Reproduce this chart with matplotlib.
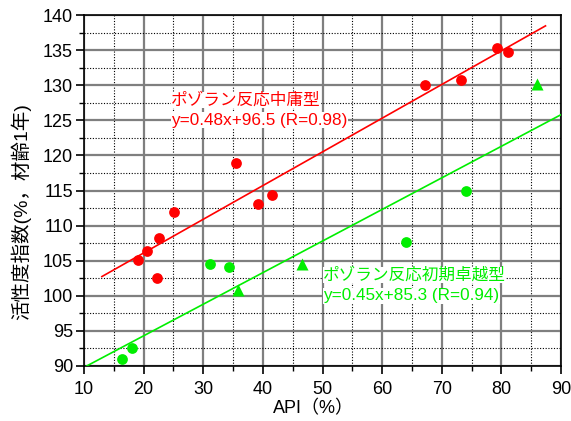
import matplotlib
matplotlib.use("Agg")
import matplotlib.pyplot as plt
from matplotlib.ticker import MultipleLocator

plt.rcParams['font.family'] = ['Liberation Sans', 'Noto Sans CJK JP', 'DejaVu Sans']

# ポゾラン反応中庸型 (red circles)
red_x = [19.1, 20.5, 22.6, 22.2, 25.1, 35.5, 39.1, 41.5, 67.2, 73.2, 79.3, 81.1]
red_y = [105.1, 106.4, 108.3, 102.5, 111.9, 118.9, 113.1, 114.4, 130.0, 130.8, 135.3, 134.8]

# ポゾラン反応初期卓越型 (green circles / triangles)
grn_x = [16.4, 18.1, 31.2, 34.4, 64.0, 74.1]
grn_y = [91.0, 92.6, 104.5, 104.1, 107.7, 115.0]
tri_x = [35.9, 46.6, 86.0]
tri_y = [100.8, 104.5, 130.2]

# regression lines
red_fit = (0.48, 96.5)
red_range = [13.0, 87.4]
grn_fit = (0.45, 85.3)
grn_range = [10.44, 90.0]

red = '#ff0000'
green = '#00ee00'

fig = plt.figure(figsize=(5.71, 4.21), dpi=100)
ax = fig.add_axes([84/571, 1-366/421, (561-84)/571, (366-15)/421])

ax.set_xlim(10, 90)
ax.set_ylim(90, 140)
ax.xaxis.set_major_locator(MultipleLocator(10))
ax.xaxis.set_minor_locator(MultipleLocator(5))
ax.yaxis.set_major_locator(MultipleLocator(5))
ax.yaxis.set_minor_locator(MultipleLocator(2.5))
ax.grid(which='major', color='#7f7f7f', linewidth=1.6, linestyle='-')
ax.grid(which='minor', color='black', linewidth=0.8, linestyle=(0, (1, 1.5)))
ax.set_axisbelow(True)

ax.plot(red_range, [red_fit[0]*x + red_fit[1] for x in red_range], color=red, lw=1.2, zorder=3)
ax.plot(grn_range, [grn_fit[0]*x + grn_fit[1] for x in grn_range], color=green, lw=1.2, zorder=3)

ax.scatter(red_x, red_y, s=60, color=red, zorder=4, linewidths=0)
ax.scatter(grn_x, grn_y, s=60, color=green, zorder=4, linewidths=0)
ax.scatter(tri_x, tri_y, s=75, marker='^', color=green, zorder=4, linewidths=0)

box = dict(facecolor='white', edgecolor='none', pad=0.3)
ax.text(24.6, 127.9, 'ポゾラン反応中庸型', color=red, fontsize=12, va='center', ha='left', bbox=box, zorder=5)
ax.text(24.6, 125.0, 'y=0.48x+96.5 (R=0.98)', color=red, fontsize=12.3, va='center', ha='left', bbox=box, zorder=5)
ax.text(50.1, 103.0, 'ポゾラン反応初期卓越型', color=green, fontsize=12, va='center', ha='left', bbox=box, zorder=5)
ax.text(50.1, 100.0, 'y=0.45x+85.3 (R=0.94)', color=green, fontsize=12.3, va='center', ha='left', bbox=box, zorder=5)

ax.tick_params(which='major', direction='out', length=6, labelsize=13, width=1.2)
ax.tick_params(axis='x', which='major', pad=5)
ax.tick_params(axis='y', which='major', pad=2)
ax.tick_params(which='minor', direction='out', length=3.5, width=1)
ax.set_xlabel('API（%）', fontsize=13)
ax.xaxis.set_label_coords(0.482, -0.097)
ax.set_ylabel('活性度指数(%，材齢1年)', fontsize=14, va='center')
ax.yaxis.set_label_coords(-0.132, 0.439)
for s in ax.spines.values():
    s.set_linewidth(1.2)

fig.savefig('out.png', dpi=100)
